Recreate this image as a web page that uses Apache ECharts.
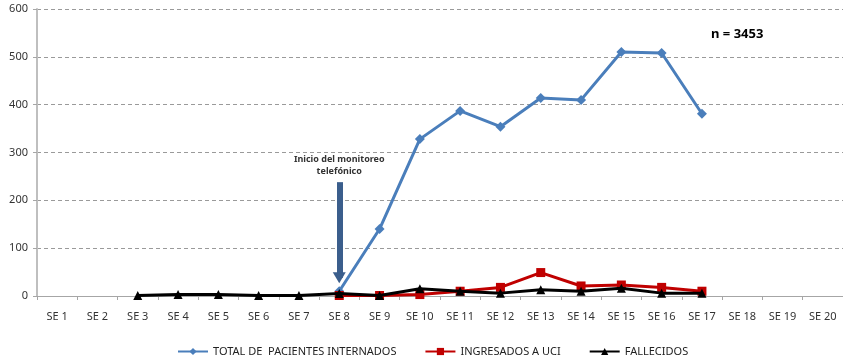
<!DOCTYPE html>
<html>
<head>
<meta charset="utf-8">
<script src="https://cdn.jsdelivr.net/npm/echarts@6/dist/echarts.min.js"></script>
<style>
  html, body { margin: 0; padding: 0; background: #fff; }
  #chart { width: 843px; height: 358px; }
</style>
</head>
<body>
<div id="chart"></div>
<script>
const weeks = ["SE 1", "SE 2", "SE 3", "SE 4", "SE 5", "SE 6", "SE 7", "SE 8", "SE 9", "SE 10",
  "SE 11", "SE 12", "SE 13", "SE 14", "SE 15", "SE 16", "SE 17", "SE 18", "SE 19", "SE 20"];

// null = no point drawn
const internados = [null, null, null, null, null, null, null, 10, 140, 328, 387, 354, 414, 410, 510, 508, 381, null, null, null];
const uci        = [null, null, null, null, null, null, null, 1, 1, 3, 10, 18, 49, 21, 23, 18, 10, null, null, null];
const fallecidos = [null, null, 1, 3, 3, 1, 1, 5, 1, 15, 10, 6, 13, 10, 16, 6, 6, null, null, null];

const yTicks = [0, 100, 200, 300, 400, 500, 600];

const FONT = "'Noto Sans', sans-serif";
const COLORS = {
  total: "#4a7ebb",
  uci: "#c00000",
  fallecidos: "#000000",
  arrow: "#3b5e8c",
  grid: "#9a9a9a",
  axis: "#a6a6a6",
  text: "#333333",
};

const chart = echarts.init(document.getElementById("chart"));

chart.setOption({
  animation: false,
  backgroundColor: "#fff",
  textStyle: { fontFamily: FONT },
  grid: { left: 37, right: -2, top: 9, bottom: 62 },
  legend: {
    left: 172,
    top: 341,
    itemWidth: 30,
    itemHeight: 9,
    itemGap: 28,
    textStyle: { fontFamily: FONT, fontSize: 11, color: "#222" },
    data: ["TOTAL DE  PACIENTES INTERNADOS", "INGRESADOS A UCI", "FALLECIDOS"],
  },
  xAxis: {
    type: "category",
    data: weeks,
    axisLine: { lineStyle: { color: COLORS.axis, width: 1 } },
    axisTick: { show: true, length: 4, lineStyle: { color: COLORS.axis } },
    axisLabel: { color: COLORS.text, fontSize: 11, margin: 15, interval: 0 },
    splitLine: { show: false },
  },
  yAxis: {
    type: "value",
    min: yTicks[0],
    max: yTicks[yTicks.length - 1],
    interval: 100,
    axisLine: { show: true, lineStyle: { color: "#bfbfbf", width: 2 } },
    axisTick: { show: true, length: 4, lineStyle: { color: COLORS.axis } },
    axisLabel: { color: COLORS.text, fontSize: 11, margin: 9 },
    splitLine: { lineStyle: { color: COLORS.grid, type: [4, 3] } },
  },
  series: [
    {
      name: "TOTAL DE  PACIENTES INTERNADOS",
      type: "line",
      data: internados,
      color: COLORS.total,
      symbol: "diamond",
      symbolSize: 10,
      lineStyle: { width: 3 },
      z: 3,
      markLine: {
        silent: true,
        symbol: ["none", "triangle"],
        symbolSize: [13, 11],
        lineStyle: { color: COLORS.arrow, width: 6, type: "solid" },
        label: {
          show: true,
          position: "start",
          distance: 5,
          formatter: "Inicio del monitoreo\ntelefónico",
          fontFamily: FONT,
          fontSize: 9,
          fontWeight: "bold",
          color: "#333",
          lineHeight: 12,
        },
        data: [[{ coord: ["SE 8", 238] }, { coord: ["SE 8", 38] }]],
      },
    },
    {
      name: "INGRESADOS A UCI",
      type: "line",
      data: uci,
      color: COLORS.uci,
      symbol: "rect",
      symbolSize: 9,
      lineStyle: { width: 3 },
      z: 4,
    },
    {
      name: "FALLECIDOS",
      type: "line",
      data: fallecidos,
      color: COLORS.fallecidos,
      symbol: "triangle",
      symbolSize: 9,
      lineStyle: { width: 3 },
      z: 5,
    },
  ],
  graphic: [
    {
      type: "text",
      left: 711,
      top: 28,
      style: { text: "n = 3453", font: "bold 13px " + FONT, fill: "#000" },
    },
  ],
});
</script>
</body>
</html>
